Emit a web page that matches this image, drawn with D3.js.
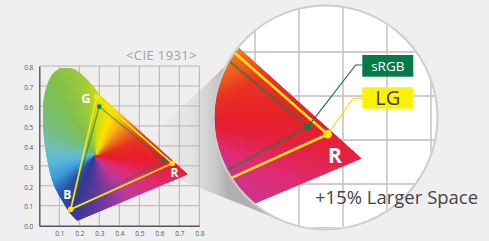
<!DOCTYPE html>
<html><head><meta charset="utf-8">
<script src="https://cdn.jsdelivr.net/npm/d3@7"></script>
<style>html,body{margin:0;padding:0;background:#efefef;overflow:hidden}</style>
</head><body><svg id="c" width="489" height="241"></svg>
<script>
// ---- data ----
const locusX = [0.190, 0.162, 0.128, 0.100, 0.070, 0.047, 0.030, 0.022, 0.020, 0.022, 0.032, 0.060, 0.094, 0.130, 0.177, 0.227, 0.268, 0.302];
const locusY = [0.025, 0.053, 0.103, 0.150, 0.210, 0.295, 0.390, 0.460, 0.550, 0.630, 0.680, 0.750, 0.783, 0.790, 0.783, 0.744, 0.700, 0.655];
const redTip = [0.742, 0.258];
const primaries = ["R", "G", "B"];
const srgbX = [0.620, 0.300, 0.157];
const srgbY = [0.330, 0.597, 0.080];
const lgX = [0.665, 0.287, 0.157];
const lgY = [0.313, 0.644, 0.082];
const xTicks = [0.1, 0.2, 0.3, 0.4, 0.5, 0.6, 0.7, 0.8];
const yTicks = [0.0, 0.1, 0.2, 0.3, 0.4, 0.5, 0.6, 0.7, 0.8];
const zoomTicks = [0.4, 0.5, 0.6, 0.7, 0.8, 0.9];
const hueAngles = [0, 20, 40, 55, 70, 85, 100, 120, 145, 170, 190, 210, 228, 248, 268, 290, 312, 335, 350, 360];
const hueColors = ["#e8202a", "#ea3323", "#f07a1e", "#f9b816", "#ffe200", "#d8e010", "#9ccb3b", "#80c04a", "#78be7a", "#6fbfb8", "#5ab8dc", "#3a9ad8", "#2e55a8", "#363a96", "#5a3a9a", "#8c3a9e", "#c23a96", "#e02c72", "#e5213e", "#e8202a"];
const hueCenter = [0.28, 0.35];
const title = "<CIE 1931>";
const legendNames = ["sRGB", "LG"];
const caption = "+15% Larger Space";

// ---- setup ----
const svg = d3.select("#c");
svg.append("rect").attr("width", 489).attr("height", 241).attr("fill", "#efefef");
const defs = svg.append("defs");
const font = "'Open Sans', 'Noto Sans', sans-serif";

const x = d3.scaleLinear([0, 0.8], [39.3, 199.3]);
const y = d3.scaleLinear([0, 0.8], [225.7, 66]);
const xm = d3.scaleLinear([0, 0.8], [35, 387]);
const ym = d3.scaleLinear([0, 0.8], [272, -80]);
const circ = {cx: 325.5, cy: 117.5, r: 112};

const hue = d3.scaleLinear().domain(hueAngles).range(hueColors).interpolate(d3.interpolateRgb);

function locusPath(sx, sy) {
  const pts = locusX.map((d, i) => [sx(d), sy(locusY[i])]);
  const curve = d3.line().curve(d3.curveCatmullRom.alpha(0.5))(pts);
  return curve + "L" + sx(redTip[0]) + "," + sy(redTip[1]) + "Z";
}

// clip paths
defs.append("clipPath").attr("id", "locS").append("path").attr("d", locusPath(x, y));
defs.append("clipPath").attr("id", "locM").append("path").attr("d", locusPath(xm, ym));
defs.append("clipPath").attr("id", "circ").append("circle").attr("cx", circ.cx).attr("cy", circ.cy).attr("r", circ.r - 1);

// cone gradient
const cg = defs.append("linearGradient").attr("id", "cone").attr("gradientUnits", "userSpaceOnUse")
  .attr("x1", 150).attr("y1", 140).attr("x2", 228).attr("y2", 140);
[[0, "#efefef"], [0.55, "#e2e2e2"], [0.85, "#c8c8c8"], [1, "#b0b0b0"]].forEach(s =>
  cg.append("stop").attr("offset", s[0]).attr("stop-color", s[1]));

// cone
const apex = [126.8, 158.7];
const aU = -152 * Math.PI / 180, aL = 111.8 * Math.PI / 180;
const U = [circ.cx + circ.r * Math.cos(aU), circ.cy + circ.r * Math.sin(aU)];
const L = [circ.cx + circ.r * Math.cos(aL), circ.cy + circ.r * Math.sin(aL)];
svg.append("path").attr("d", `M${apex}L${U}L${circ.cx},${circ.cy}L${L}Z`).attr("fill", "url(#cone)");

// small grid
const grid = svg.append("g").attr("stroke", "#b4b4b4").attr("stroke-width", 1);
xTicks.forEach(t => grid.append("line").attr("x1", x(t)).attr("x2", x(t)).attr("y1", y(0)).attr("y2", y(0.8)));
yTicks.filter(t => t > 0).forEach(t => grid.append("line").attr("x1", x(0)).attr("x2", x(0.8)).attr("y1", y(t)).attr("y2", y(t)));

// axes
const fmt = d3.format(".1f");
const ax = svg.append("g").attr("transform", `translate(0,${y(0)})`)
  .call(d3.axisBottom(x).tickValues(xTicks).tickSize(0).tickPadding(6).tickFormat(fmt));
const ay = svg.append("g").attr("transform", `translate(${x(0)},0)`)
  .call(d3.axisLeft(y).tickValues(yTicks).tickSize(0).tickPadding(6).tickFormat(fmt));
[ax, ay].forEach(a => {
  a.select(".domain").attr("stroke", "#555").attr("stroke-width", 1.4);
  a.selectAll("text").attr("fill", "#555").attr("font-size", 6.5).attr("font-family", font);
});
ay.selectAll("text").attr("dy", "0.5em");

// gamut rendering (conic colour fill)
function drawGamut(parent, sx, sy) {
  const g = parent.append("g");
  const cx = sx(hueCenter[0]), cy = sy(hueCenter[1]);
  const R = 1.3;
  for (let a = 0; a < 360; a++) {
    const a0 = a * Math.PI / 180, a1 = (a + 1.5) * Math.PI / 180;
    const p0 = [sx(hueCenter[0] + R * Math.cos(a0)), sy(hueCenter[1] + R * Math.sin(a0))];
    const p1 = [sx(hueCenter[0] + R * Math.cos(a1)), sy(hueCenter[1] + R * Math.sin(a1))];
    const c = hue(a + 0.5);
    g.append("path").attr("d", `M${cx},${cy}L${p0}L${p1}Z`).attr("fill", c)
      .attr("stroke", c).attr("stroke-width", 0.8);
  }
  return g;
}
function drawTriangles(parent, sx, sy, big) {
  const tri = (xs, ys) => d3.line()(xs.map((d, i) => [sx(d), sy(ys[i])])) + "Z";
  parent.append("path").attr("d", tri(srgbX, srgbY)).attr("fill", "none")
    .attr("stroke", "#1f7a3f").attr("stroke-opacity", 0.6).attr("stroke-width", big ? 2.2 : 1.3);
  parent.append("path").attr("d", tri(lgX, lgY)).attr("fill", "none")
    .attr("stroke", "#f7e21b").attr("stroke-width", big ? 2.6 : 1.8);
}

const small = svg.append("g");
drawGamut(small.append("g").attr("clip-path", "url(#locS)"), x, y);
drawTriangles(small, x, y, false);
small.selectAll("circle.lg").data(primaries).join("circle").attr("class", "lg")
  .attr("cx", (d, i) => x(lgX[i])).attr("cy", (d, i) => y(lgY[i])).attr("r", 2.8).attr("fill", "#f7e21b");
small.selectAll("rect.sr").data(primaries.slice(0, 2)).join("rect").attr("class", "sr")
  .attr("x", (d, i) => x(srgbX[i]) - 2).attr("y", (d, i) => y(srgbY[i]) - 2).attr("width", 4).attr("height", 4).attr("fill", "#0b7a44");
const lblPos = {G: [86, 102.7, 13], B: [67.3, 199.3, 12], R: [174.5, 176.7, 12]};
primaries.forEach(p => small.append("text").attr("x", lblPos[p][0]).attr("y", lblPos[p][1])
  .attr("text-anchor", "middle").attr("font-family", font).attr("font-weight", "bold")
  .attr("font-size", lblPos[p][2]).attr("fill", "#fff").text(p));

svg.append("text").attr("x", 197).attr("y", 60).attr("text-anchor", "end").attr("font-family", font)
  .attr("font-size", 13).attr("letter-spacing", 0.4).attr("fill", "#a0a0a0").text(title);

// magnified circle
svg.append("circle").attr("cx", circ.cx).attr("cy", circ.cy).attr("r", circ.r).attr("fill", "#fff");
const mag = svg.append("g").attr("clip-path", "url(#circ)");
const mg = mag.append("g").attr("stroke", "#bdbdbd").attr("stroke-width", 1.4);
zoomTicks.forEach(t => {
  mg.append("line").attr("x1", xm(t)).attr("x2", xm(t)).attr("y1", 0).attr("y2", 241);
  mg.append("line").attr("x1", 200).attr("x2", 489).attr("y1", ym(t - 0.4)).attr("y2", ym(t - 0.4));
});
drawGamut(mag.append("g").attr("clip-path", "url(#locM)"), xm, ym);
drawTriangles(mag, xm, ym, true);
svg.append("circle").attr("cx", circ.cx).attr("cy", circ.cy).attr("r", circ.r)
  .attr("fill", "none").attr("stroke", "#cdcdcd").attr("stroke-width", 2);

// leaders and legend boxes
const sR = [xm(srgbX[0]), ym(srgbY[0])], lR = [xm(lgX[0]), ym(lgY[0])];
svg.append("path").attr("d", `M${sR}L355.7,65L362.3,65`).attr("fill", "none").attr("stroke", "#0b7a44").attr("stroke-width", 1.2);
svg.append("path").attr("d", `M${lR}L353.3,98.3L362.3,98.3`).attr("fill", "none").attr("stroke", "#f7e21b").attr("stroke-width", 1.2);
svg.append("rect").attr("x", sR[0] - 3).attr("y", sR[1] - 3).attr("width", 6).attr("height", 6).attr("fill", "#0b7a44");
svg.append("circle").attr("cx", lR[0]).attr("cy", lR[1]).attr("r", 4.3).attr("fill", "#f7e21b");
svg.append("text").attr("x", 335).attr("y", 163).attr("text-anchor", "middle").attr("font-family", font)
  .attr("font-weight", "bold").attr("font-size", 21).attr("fill", "#fff").text("R");

svg.append("rect").attr("x", 362.3).attr("y", 55).attr("width", 51).attr("height", 21.7).attr("fill", "#047a46");
svg.append("text").attr("x", 387.8).attr("y", 70.8).attr("text-anchor", "middle").attr("font-family", font)
  .attr("font-size", 13.5).attr("fill", "#fff").text(legendNames[0]);
svg.append("rect").attr("x", 362.3).attr("y", 87.3).attr("width", 51).attr("height", 21.4).attr("fill", "#fff100");
svg.append("text").attr("x", 387.8).attr("y", 105.2).attr("text-anchor", "middle").attr("font-family", font)
  .attr("font-size", 20).attr("fill", "#3a3a3a").text(legendNames[1]);

svg.append("text").attr("x", 315).attr("y", 204).attr("font-family", font)
  .attr("font-size", 18.5).attr("fill", "#444").text(caption);
</script></body></html>
